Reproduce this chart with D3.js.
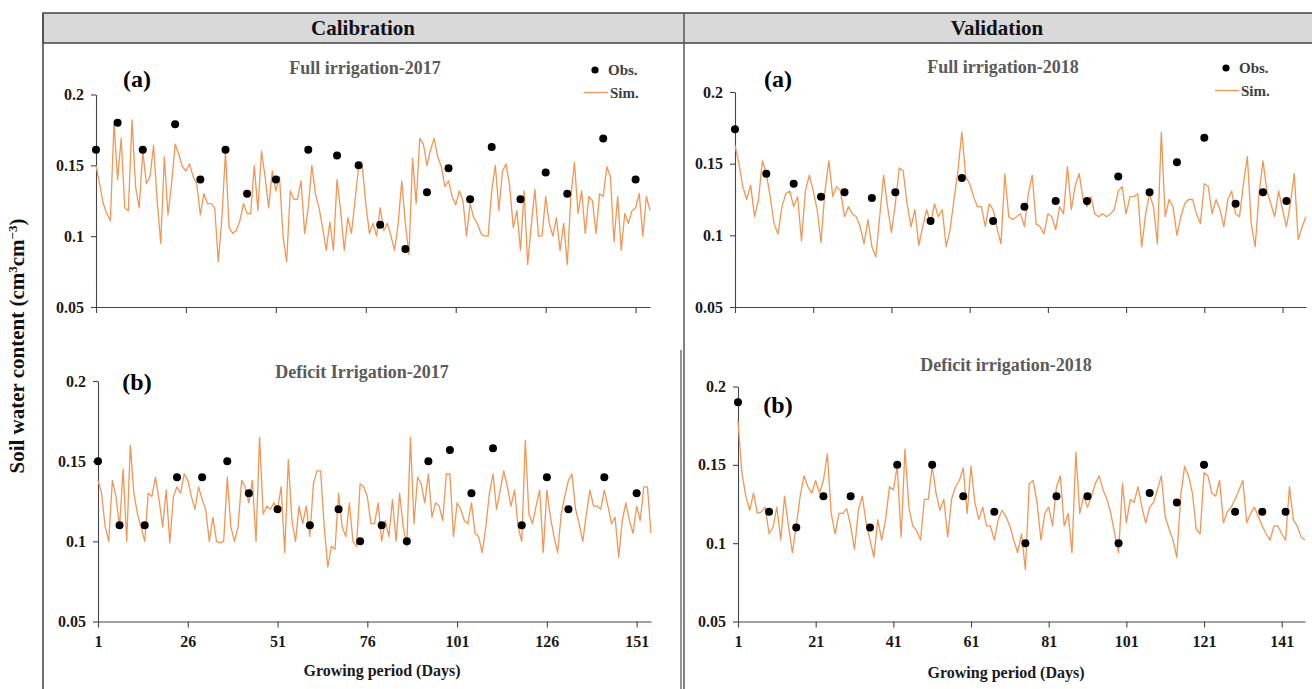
<!DOCTYPE html>
<html>
<head>
<meta charset="utf-8">
<script src="https://cdn.jsdelivr.net/npm/d3@7"></script>
<style>
  body { margin: 0; background: #fff; }
  svg text { font-family: "Liberation Serif", "Times New Roman", serif; font-weight: bold; }
</style>
</head>
<body>
<svg id="chart" width="1312" height="689"></svg>
<script>
// ---- data ----
const yTicks = [0.05, 0.1, 0.15, 0.2];
const ticks2017 = [1, 26, 51, 76, 101, 126, 151];
const ticks2018 = [1, 21, 41, 61, 81, 101, 121, 141];

// simulated daily soil water content, day 1..155 (2017) and 1..147 (2018)
const simFull2017 = [
  0.150, 0.137, 0.123, 0.116, 0.111, 0.180, 0.140, 0.169, 0.120, 0.118,
  0.182, 0.135, 0.120, 0.160, 0.137, 0.142, 0.164, 0.125, 0.095, 0.156,
  0.115, 0.137, 0.165, 0.158, 0.149, 0.146, 0.151, 0.142, 0.137, 0.115,
  0.130, 0.123, 0.123, 0.120, 0.082, 0.113, 0.160, 0.106, 0.102, 0.104,
  0.111, 0.123, 0.116, 0.116, 0.150, 0.118, 0.160, 0.142, 0.120, 0.146,
  0.132, 0.142, 0.100, 0.082, 0.132, 0.126, 0.126, 0.139, 0.102, 0.120,
  0.150, 0.130, 0.120, 0.106, 0.090, 0.110, 0.090, 0.140, 0.118, 0.090,
  0.113, 0.102, 0.125, 0.149, 0.150, 0.123, 0.102, 0.109, 0.100, 0.120,
  0.104, 0.109, 0.100, 0.090, 0.109, 0.139, 0.109, 0.087, 0.155, 0.123,
  0.169, 0.165, 0.150, 0.161, 0.169, 0.156, 0.149, 0.135, 0.139, 0.128,
  0.122, 0.132, 0.125, 0.100, 0.123, 0.113, 0.109, 0.102, 0.100, 0.100,
  0.132, 0.150, 0.118, 0.146, 0.151, 0.135, 0.106, 0.118, 0.090, 0.132,
  0.080, 0.108, 0.133, 0.100, 0.100, 0.128, 0.109, 0.100, 0.113, 0.090,
  0.109, 0.080, 0.128, 0.152, 0.116, 0.132, 0.102, 0.128, 0.125, 0.102,
  0.130, 0.128, 0.149, 0.142, 0.096, 0.128, 0.090, 0.116, 0.109, 0.118,
  0.120, 0.130, 0.100, 0.128, 0.118
];
const simDeficit2017 = [
  0.138, 0.130, 0.109, 0.100, 0.138, 0.128, 0.109, 0.145, 0.100, 0.160,
  0.130, 0.117, 0.109, 0.100, 0.130, 0.128, 0.140, 0.126, 0.109, 0.132,
  0.099, 0.128, 0.134, 0.130, 0.142, 0.138, 0.128, 0.120, 0.134, 0.126,
  0.120, 0.100, 0.115, 0.100, 0.099, 0.100, 0.140, 0.109, 0.100, 0.109,
  0.138, 0.134, 0.124, 0.138, 0.100, 0.165, 0.117, 0.122, 0.120, 0.124,
  0.120, 0.134, 0.093, 0.151, 0.113, 0.100, 0.122, 0.111, 0.122, 0.103,
  0.136, 0.144, 0.144, 0.109, 0.084, 0.097, 0.095, 0.130, 0.109, 0.103,
  0.124, 0.100, 0.097, 0.136, 0.134, 0.128, 0.111, 0.111, 0.124, 0.100,
  0.113, 0.103, 0.126, 0.100, 0.130, 0.109, 0.097, 0.165, 0.111, 0.140,
  0.136, 0.124, 0.142, 0.115, 0.124, 0.122, 0.113, 0.142, 0.142, 0.103,
  0.124, 0.120, 0.113, 0.111, 0.124, 0.105, 0.103, 0.093, 0.109, 0.130,
  0.142, 0.120, 0.132, 0.144, 0.134, 0.122, 0.132, 0.109, 0.100, 0.163,
  0.117, 0.111, 0.122, 0.132, 0.093, 0.132, 0.115, 0.103, 0.093, 0.117,
  0.128, 0.138, 0.142, 0.120, 0.111, 0.100, 0.117, 0.132, 0.122, 0.122,
  0.120, 0.132, 0.122, 0.111, 0.115, 0.090, 0.113, 0.124, 0.113, 0.105,
  0.122, 0.113, 0.134, 0.134, 0.105
];
const simFull2018 = [
  0.163, 0.150, 0.134, 0.125, 0.135, 0.113, 0.125, 0.152, 0.143, 0.127,
  0.108, 0.101, 0.120, 0.129, 0.131, 0.120, 0.127, 0.096, 0.131, 0.142,
  0.131, 0.118, 0.095, 0.131, 0.152, 0.127, 0.134, 0.131, 0.113, 0.120,
  0.115, 0.113, 0.106, 0.094, 0.111, 0.092, 0.085, 0.113, 0.142, 0.120,
  0.102, 0.122, 0.147, 0.145, 0.122, 0.106, 0.118, 0.093, 0.106, 0.118,
  0.108, 0.122, 0.113, 0.118, 0.092, 0.104, 0.125, 0.145, 0.172, 0.141,
  0.136, 0.127, 0.120, 0.120, 0.106, 0.122, 0.118, 0.105, 0.094, 0.143,
  0.113, 0.111, 0.113, 0.115, 0.106, 0.129, 0.142, 0.108, 0.106, 0.101,
  0.115, 0.113, 0.104, 0.120, 0.115, 0.148, 0.118, 0.135, 0.143, 0.125,
  0.120, 0.127, 0.115, 0.113, 0.115, 0.113, 0.115, 0.118, 0.131, 0.134,
  0.115, 0.127, 0.127, 0.129, 0.092, 0.115, 0.129, 0.120, 0.094, 0.172,
  0.113, 0.125, 0.120, 0.100, 0.113, 0.122, 0.125, 0.125, 0.115, 0.108,
  0.136, 0.134, 0.115, 0.125, 0.118, 0.106, 0.125, 0.131, 0.115, 0.113,
  0.136, 0.155, 0.108, 0.092, 0.129, 0.152, 0.131, 0.122, 0.113, 0.131,
  0.118, 0.106, 0.122, 0.143, 0.097, 0.106, 0.113
];
const simDeficit2018 = [
  0.178, 0.145, 0.130, 0.121, 0.132, 0.119, 0.120, 0.123, 0.106, 0.110,
  0.123, 0.102, 0.130, 0.111, 0.094, 0.111, 0.130, 0.143, 0.136, 0.132,
  0.140, 0.132, 0.140, 0.157, 0.119, 0.106, 0.119, 0.119, 0.122, 0.111,
  0.096, 0.121, 0.130, 0.113, 0.102, 0.091, 0.115, 0.102, 0.115, 0.136,
  0.134, 0.149, 0.104, 0.160, 0.123, 0.111, 0.108, 0.102, 0.128, 0.128,
  0.149, 0.132, 0.121, 0.128, 0.104, 0.128, 0.136, 0.140, 0.148, 0.119,
  0.149, 0.126, 0.115, 0.123, 0.111, 0.111, 0.102, 0.115, 0.121, 0.117,
  0.111, 0.102, 0.094, 0.106, 0.083, 0.138, 0.140, 0.126, 0.102, 0.119,
  0.123, 0.111, 0.136, 0.143, 0.111, 0.119, 0.094, 0.158, 0.119, 0.130,
  0.123, 0.130, 0.138, 0.143, 0.134, 0.128, 0.119, 0.106, 0.094, 0.138,
  0.113, 0.128, 0.126, 0.136, 0.123, 0.113, 0.123, 0.126, 0.134, 0.143,
  0.117, 0.109, 0.102, 0.091, 0.130, 0.149, 0.143, 0.132, 0.109, 0.106,
  0.145, 0.143, 0.132, 0.130, 0.140, 0.113, 0.120, 0.123, 0.128, 0.134,
  0.140, 0.113, 0.119, 0.123, 0.117, 0.111, 0.106, 0.102, 0.111, 0.111,
  0.106, 0.102, 0.136, 0.115, 0.111, 0.104, 0.102
];

// observed values
const obsDays2017 = [1, 7, 14, 23, 30, 37, 43, 51, 60, 68, 74, 80, 87, 93, 99, 105, 111, 119, 126, 132, 142, 151];
const obsFull2017 = [0.161, 0.180, 0.161, 0.179, 0.140, 0.161, 0.130, 0.140, 0.161, 0.157, 0.150,
  0.108, 0.091, 0.131, 0.148, 0.126, 0.163, 0.126, 0.145, 0.130, 0.169, 0.140];
const obsDeficit2017 = [0.150, 0.110, 0.110, 0.140, 0.140, 0.150, 0.130, 0.120, 0.110, 0.120, 0.100,
  0.110, 0.100, 0.150, 0.157, 0.130, 0.158, 0.110, 0.140, 0.120, 0.140, 0.130];
const obsDaysFull2018 = [1, 9, 16, 23, 29, 36, 42, 51, 59, 67, 75, 83, 91, 99, 107, 114, 121, 129, 136, 142];
const obsFull2018 = [0.174, 0.143, 0.136, 0.127, 0.130, 0.126, 0.130, 0.110, 0.140, 0.110,
  0.120, 0.124, 0.124, 0.141, 0.130, 0.151, 0.168, 0.122, 0.130, 0.124];
const obsDaysDeficit2018 = [1, 9, 16, 23, 30, 35, 42, 51, 59, 67, 75, 83, 91, 99, 107, 114, 121, 129, 136, 142];
const obsDeficit2018 = [0.190, 0.120, 0.110, 0.130, 0.130, 0.110, 0.150, 0.150, 0.130, 0.120,
  0.100, 0.130, 0.130, 0.100, 0.132, 0.126, 0.150, 0.120, 0.120, 0.120];

// ---- panels ----
const panels = [
  { sim: simFull2017, obsDays: obsDays2017, obs: obsFull2017, ticks: ticks2017, days: 155,
    x0: 96, x1: 650, yTop: 94.5, yBot: 307, labels: false,
    title: "Full irrigation-2017", tx: 365, ty: 74, tag: "(a)", gx: 137, gy: 87,
    legend: { x: 595, y: 70 } },
  { sim: simDeficit2017, obsDays: obsDays2017, obs: obsDeficit2017, ticks: ticks2017, days: 155,
    x0: 98, x1: 651, yTop: 381, yBot: 621.5, labels: true,
    title: "Deficit Irrigation-2017", tx: 362, ty: 378, tag: "(b)", gx: 137, gy: 390,
    xlab: { x: 382, y: 676 } },
  { sim: simFull2018, obsDays: obsDaysFull2018, obs: obsFull2018, ticks: ticks2018, days: 147,
    x0: 735, x1: 1306, yTop: 92, yBot: 307, labels: false,
    title: "Full irrigation-2018", tx: 1003, ty: 73, tag: "(a)", gx: 778, gy: 87,
    legend: { x: 1226, y: 68 } },
  { sim: simDeficit2018, obsDays: obsDaysDeficit2018, obs: obsDeficit2018, ticks: ticks2018, days: 147,
    x0: 738, x1: 1305, yTop: 386.5, yBot: 621.5, labels: true,
    title: "Deficit irrigation-2018", tx: 1006, ty: 371, tag: "(b)", gx: 778, gy: 413,
    xlab: { x: 1006, y: 678 } }
];

const simColor = "#f29655";
const svg = d3.select("#chart");

// frame and header
svg.append("rect")
  .attr("x", 43).attr("y", 13).attr("width", 1275).attr("height", 30)
  .attr("fill", "#d9d9d9").attr("stroke", "#4d4d4d").attr("stroke-width", 1.6);
svg.append("line").attr("x1", 43).attr("x2", 43).attr("y1", 13).attr("y2", 689)
  .attr("stroke", "#4d4d4d").attr("stroke-width", 1.6);
svg.append("line").attr("x1", 684).attr("x2", 684).attr("y1", 13).attr("y2", 689)
  .attr("stroke", "#4d4d4d").attr("stroke-width", 1.4);
svg.append("line").attr("x1", 681).attr("x2", 681).attr("y1", 350).attr("y2", 689)
  .attr("stroke", "#4d4d4d").attr("stroke-width", 1.2);

svg.append("text").attr("x", 363).attr("y", 35).attr("text-anchor", "middle")
  .style("font-size", "21px").attr("fill", "#111").text("Calibration");
svg.append("text").attr("x", 997).attr("y", 35).attr("text-anchor", "middle")
  .style("font-size", "21px").attr("fill", "#111").text("Validation");

// y axis title
const yt = svg.append("text")
  .attr("transform", "translate(24,346) rotate(-90)")
  .attr("text-anchor", "middle")
  .style("font-size", "21px").attr("fill", "#111");
yt.append("tspan").text("Soil water content (cm");
yt.append("tspan").attr("dy", -7).style("font-size", "13px").text("3");
yt.append("tspan").attr("dy", 7).text("cm");
yt.append("tspan").attr("dy", -7).style("font-size", "13px").text("−3");
yt.append("tspan").attr("dy", 7).text(")");

panels.forEach(p => {
  const x = d3.scaleLinear().domain([1, p.days]).range([p.x0, p.x1]);
  const y = d3.scaleLinear().domain([0.05, 0.2]).range([p.yBot, p.yTop]);
  const g = svg.append("g");

  // y axis
  const ay = g.append("g")
    .attr("transform", `translate(${p.x0},0)`)
    .call(d3.axisLeft(y).tickValues(yTicks).tickSize(5).tickSizeOuter(0).tickPadding(7)
      .tickFormat(d => String(d)));
  ay.selectAll("text").style("font-size", "16px").attr("fill", "#1a1a1a");

  // x axis
  const ax = g.append("g")
    .attr("transform", `translate(0,${p.yBot})`)
    .call(d3.axisBottom(x).tickValues(p.ticks).tickSize(6).tickSizeOuter(0).tickPadding(8)
      .tickFormat(p.labels ? d => d : ""));
  ax.selectAll("text").style("font-size", "16px").attr("fill", "#1a1a1a");
  g.selectAll(".domain, .tick line").attr("stroke", "#444").attr("stroke-width", 1.1);
  g.selectAll("text").attr("font-family", null);

  // simulated line
  const line = d3.line().x((d, i) => x(i + 1)).y(d => y(d));
  g.append("path").datum(p.sim)
    .attr("d", line)
    .attr("fill", "none")
    .attr("stroke", simColor)
    .attr("stroke-width", 1.3)
    .attr("stroke-linejoin", "round");

  // observed points
  g.selectAll("circle.obs")
    .data(p.obs)
    .enter().append("circle")
    .attr("class", "obs")
    .attr("cx", (d, i) => x(p.obsDays[i]))
    .attr("cy", d => y(d))
    .attr("r", 4)
    .attr("fill", "#000");

  // titles
  g.append("text").attr("x", p.tx).attr("y", p.ty).attr("text-anchor", "middle")
    .style("font-size", "18px").attr("fill", "#5a5a5a").text(p.title);
  g.append("text").attr("x", p.gx).attr("y", p.gy).attr("text-anchor", "middle")
    .style("font-size", "24px").attr("fill", "#000").text(p.tag);

  if (p.xlab) {
    g.append("text").attr("x", p.xlab.x).attr("y", p.xlab.y).attr("text-anchor", "middle")
      .style("font-size", "16px").attr("fill", "#1a1a1a").text("Growing period (Days)");
  }

  if (p.legend) {
    const L = p.legend;
    g.append("circle").attr("cx", L.x).attr("cy", L.y).attr("r", 3.6).attr("fill", "#000");
    g.append("text").attr("x", L.x + 13).attr("y", L.y + 5)
      .style("font-size", "15px").attr("fill", "#404040").text("Obs.");
    g.append("line").attr("x1", L.x - 11).attr("x2", L.x + 13)
      .attr("y1", L.y + 22.5).attr("y2", L.y + 22.5)
      .attr("stroke", simColor).attr("stroke-width", 1.3);
    g.append("text").attr("x", L.x + 15).attr("y", L.y + 27.5)
      .style("font-size", "15px").attr("fill", "#404040").text("Sim.");
  }
});
</script>
</body>
</html>
